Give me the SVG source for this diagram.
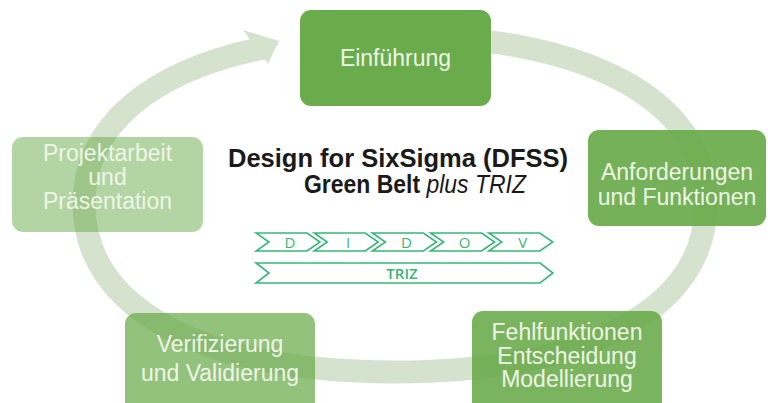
<svg xmlns="http://www.w3.org/2000/svg" width="768" height="403" viewBox="0 0 768 403">
  <style>
    .ring { fill: none; stroke: #d5e3ce; stroke-width: 23; }
    .head { fill: #d5e3ce; }
    .box { fill: #6aab4b; }
    .lbl { font-family: "Liberation Sans", Arial, sans-serif; font-size: 23px; fill: #eef6e6; text-anchor: middle; }
    .title { font-family: "Liberation Sans", Arial, sans-serif; font-size: 25px; fill: #1a1a1a; text-anchor: middle; }
    .chev { fill: none; stroke: #38b677; stroke-width: 1.6; stroke-linejoin: miter; }
    .chevtxt { font-family: "Open Sans", "Noto Sans", sans-serif; font-size: 15px; fill: #38b677; text-anchor: middle; }
  </style>

  <rect width="768" height="403" fill="#ffffff"/>

  <!-- circular process arrow running clockwise through all stages -->
  <g id="connectors">
    <path class="ring" d="M 395,36 C 587.8,36 706,99.8 706,204 C 706,308.2 587.8,372 395,372 C 202.2,372 84,308.2 84,204 C 84,125.85 150.49,70.43 265.07,47.6"/>
    <polygon class="head" points="243,30 279,41 268,64"/>
  </g>

  <!-- stages -->
  <g id="node-einfuehrung">
    <rect class="box" x="300" y="10" width="191" height="96" rx="11"/>
    <text class="lbl" x="395.5" y="66">Einführung</text>
  </g>

  <g id="node-anforderungen">
    <rect class="box" x="588" y="130" width="178" height="96" rx="11" opacity="0.93"/>
    <text class="lbl" x="677" y="180" font-size="22.5">Anforderungen</text>
    <text class="lbl" x="677" y="205" font-size="22.5">und Funktionen</text>
  </g>

  <g id="node-fehlfunktionen">
    <rect class="box" x="472" y="311" width="190" height="104" rx="11" opacity="0.89"/>
    <text class="lbl" x="567" y="340" font-size="21">Fehlfunktionen</text>
    <text class="lbl" x="567" y="363.5" font-size="21">Entscheidung</text>
    <text class="lbl" x="567" y="387" font-size="21">Modellierung</text>
  </g>

  <g id="node-verifizierung">
    <rect class="box" x="125" y="313" width="190" height="102" rx="11" opacity="0.72"/>
    <text class="lbl" x="220" y="352">Verifizierung</text>
    <text class="lbl" x="220" y="381">und Validierung</text>
  </g>

  <g id="node-projektarbeit">
    <rect class="box" x="12" y="137" width="191" height="95" rx="11" opacity="0.51"/>
    <text class="lbl" x="107.5" y="161" font-size="21.5">Projektarbeit</text>
    <text class="lbl" x="107.5" y="185" font-size="21.5">und</text>
    <text class="lbl" x="107.5" y="209" font-size="21.5">Präsentation</text>
  </g>

  <!-- centre heading -->
  <g id="title">
    <text class="title" x="398" y="167" font-weight="bold" textLength="340" lengthAdjust="spacingAndGlyphs">Design for SixSigma (DFSS)</text>
    <text class="title" x="415" y="193" textLength="222" lengthAdjust="spacingAndGlyphs"><tspan font-weight="bold">Green Belt</tspan> <tspan font-style="italic">plus TRIZ</tspan></text>
  </g>

  <!-- phase chevrons D-I-D-O-V and the TRIZ band underneath -->
  <g id="phases">
    <path class="chev" d="M256,233 H307 L320,242 L307,251 H256 L269,242 Z"/>
    <path class="chev" d="M314.2,233 H365.2 L378.2,242 L365.2,251 H314.2 L327.2,242 Z"/>
    <path class="chev" d="M372.4,233 H423.4 L436.4,242 L423.4,251 H372.4 L385.4,242 Z"/>
    <path class="chev" d="M430.6,233 H481.6 L494.6,242 L481.6,251 H430.6 L443.6,242 Z"/>
    <path class="chev" d="M488.8,233 H539.8 L552.8,242 L539.8,251 H488.8 L501.8,242 Z"/>
    <text class="chevtxt" x="290" y="247.5">D</text>
    <text class="chevtxt" x="348.2" y="247.5">I</text>
    <text class="chevtxt" x="406.4" y="247.5">D</text>
    <text class="chevtxt" x="464.6" y="247.5">O</text>
    <text class="chevtxt" x="522.8" y="247.5">V</text>
    <path class="chev" d="M256,263 H540 L553,273 L540,283 H256 L269,273 Z"/>
    <text class="chevtxt" x="402" y="278.5" font-size="14" font-weight="600">TRIZ</text>
  </g>
</svg>
